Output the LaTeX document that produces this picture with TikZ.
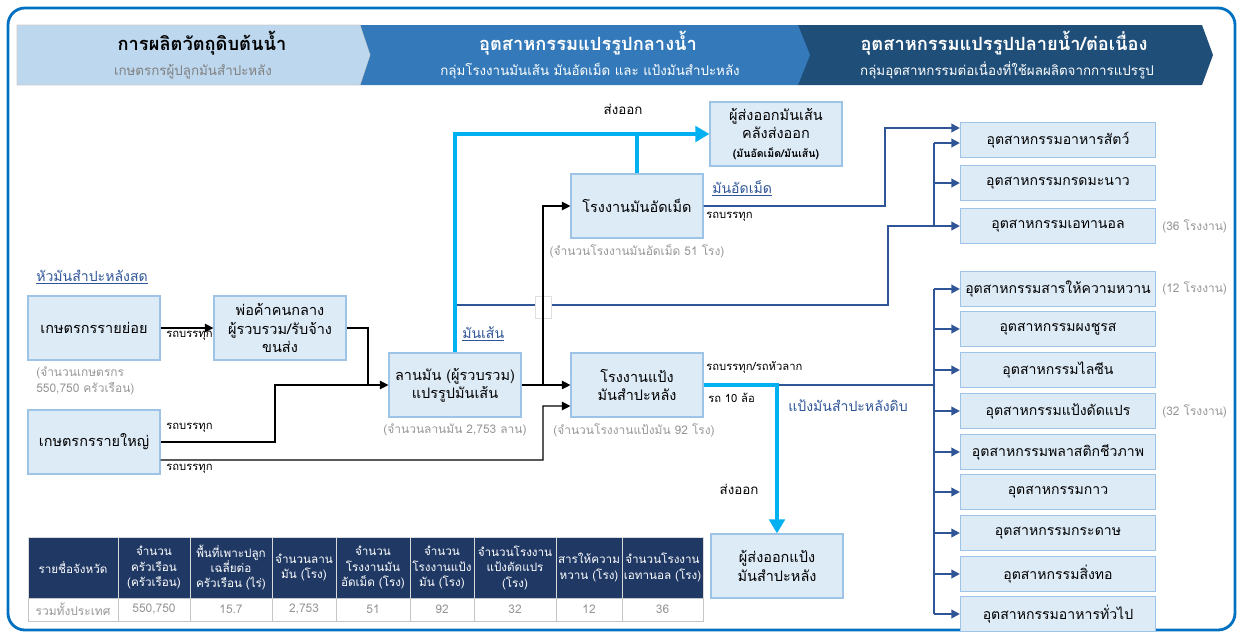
\documentclass[tikz,border=0pt]{standalone}
\usepackage{fontspec}
\setmainfont{Loma}[Script=Thai]
\usetikzlibrary{arrows.meta}

\definecolor{framec}{RGB}{0,112,192}
\definecolor{boxc}{RGB}{221,235,247}
\definecolor{boxedge}{RGB}{157,195,230}
\definecolor{segone}{RGB}{189,215,238}
\definecolor{segtwo}{RGB}{52,122,186}
\definecolor{segthree}{RGB}{31,78,121}
\definecolor{cyanc}{RGB}{0,176,240}
\definecolor{dblue}{RGB}{47,85,151}
\definecolor{navy}{RGB}{31,56,100}
\definecolor{graytxt}{RGB}{150,150,150}

\begin{document}
\begin{tikzpicture}[x = 0.025cm, y = -0.025cm,
  box/.style = {fill=boxc, draw=boxedge, line width=0.8pt, minimum width=3.3cm, minimum height=1.6cm, align=center, inner sep=1pt, font=\fontsize{10.3}{13}\selectfont},
  ind/.style = {fill=boxc, draw=boxedge, line width=0.8pt, minimum width=4.875cm, minimum height=0.875cm, inner sep=1pt, font=\fontsize{10}{12}\selectfont},
  note/.style = {text=graytxt, font=\fontsize{8.5}{11}\selectfont, inner sep=0pt},
  truck/.style = {font=\fontsize{8}{9}\selectfont, inner sep=0pt, anchor=west},
  lbl/.style = {text=dblue, font=\fontsize{10}{12}\selectfont, inner sep=0pt, anchor=west},
  arr/.style = {black, line width=0.8pt, -{Triangle[length=6pt,width=6pt]}},
  blk/.style = {black, line width=0.8pt},
  cy/.style = {cyanc, line width=3pt},
  cyarr/.style = {cyanc, line width=3pt, -{Triangle[length=10pt,width=11pt]}},
  db/.style = {dblue, line width=1.4pt},
  dbarr/.style = {dblue, line width=1.4pt, -{Triangle[length=6pt,width=6pt]}},
  hcell/.style = {fill=navy, draw=white!70!gray, text=white, minimum height=1.525cm, inner sep=0pt, align=center, font=\fontsize{8.3}{11}\selectfont},
  dcell/.style = {fill=white, draw=gray!45, text=graytxt, minimum height=0.575cm, inner sep=0pt, font=\fontsize{8.5}{9}\selectfont},
]

\useasboundingbox (0,0) rectangle (1242,634);
\draw[framec, line width=2pt, rounded corners=12pt] (8,8) rectangle (1235,630);

% header banner
\fill[segthree] (798,25) -- (1202,25) -- (1213,55) -- (1202,85) -- (798,85) -- cycle;
\fill[segtwo] (360,25) -- (798,25) -- (810,55) -- (798,85) -- (360,85) -- cycle;
\filldraw[fill=segone, draw=gray!40] (17,25) -- (360,25) -- (370,55) -- (360,85) -- (17,85) -- cycle;

\node (h1t) at (202,43) {\fontsize{13}{15}\selectfont\bfseries การผลิตวัตถุดิบต้นน้ำ};
\node[text=gray] (h1s) at (193,72) {\fontsize{9.5}{11}\selectfont เกษตรกรผู้ปลูกมันสำปะหลัง};
\node[text=white] (h2t) at (588,43) {\fontsize{13}{15}\selectfont\bfseries อุตสาหกรรมแปรรูปกลางน้ำ};
\node[text=white] (h2s) at (590,71) {\fontsize{9.5}{11}\selectfont กลุ่มโรงงานมันเส้น มันอัดเม็ด และ แป้งมันสำปะหลัง};
\node[text=white] (h3t) at (1004,43) {\fontsize{13}{15}\selectfont\bfseries อุตสาหกรรมแปรรูปปลายน้ำ/ต่อเนื่อง};
\node[text=white] (h3s) at (1007,70) {\fontsize{9.5}{11}\selectfont กลุ่มอุตสาหกรรมต่อเนื่องที่ใช้ผลผลิตจากการแปรรูป};

% boxes
\node[box] (small) at (94,328) {เกษตรกรรายย่อย};
\node[box] (large) at (94,442) {เกษตรกรรายใหญ่};
\node[box] (mid) at (280,328) {พ่อค้าคนกลาง\\ผู้รวบรวม/รับจ้าง\\ขนส่ง};
\node[box] (yard) at (455,385) {ลานมัน (ผู้รวบรวม)\\แปรรูปมันเส้น};
\node[box] (starch) at (637,385) {โรงงานแป้ง\\มันสำปะหลัง};
\node[box] (pellet) at (637,206) {โรงงานมันอัดเม็ด};
\node[box] (expchip) at (776,134) {ผู้ส่งออกมันเส้น\\คลังส่งออก\\{\fontsize{7.5}{9}\selectfont\bfseries (มันอัดเม็ด/มันเส้น)}};
\node[box] (expstarch) at (777,566) {ผู้ส่งออกแป้ง\\มันสำปะหลัง};

\node[ind] (feed) at (1058,140) {อุตสาหกรรมอาหารสัตว์};
\node[ind] (citric) at (1058,183) {อุตสาหกรรมกรดมะนาว};
\node[ind] (eth) at (1058,226) {อุตสาหกรรมเอทานอล};
\node[ind] (sweet) at (1058,289) {อุตสาหกรรมสารให้ความหวาน};
\node[ind] (msg) at (1058,329) {อุตสาหกรรมผงชูรส};
\node[ind] (lys) at (1058,370) {อุตสาหกรรมไลซีน};
\node[ind] (modst) at (1058,411) {อุตสาหกรรมแป้งดัดแปร};
\node[ind] (bioplas) at (1058,452) {อุตสาหกรรมพลาสติกชีวภาพ};
\node[ind] (glue) at (1058,492) {อุตสาหกรรมกาว};
\node[ind] (paper) at (1058,533) {อุตสาหกรรมกระดาษ};
\node[ind] (textile) at (1058,574) {อุตสาหกรรมสิ่งทอ};
\node[ind] (food) at (1058,614) {อุตสาหกรรมอาหารทั่วไป};

% labels
\node[lbl] (fresh) at (36,277) {\underline{หัวมันสำปะหลังสด}};
\node[lbl] (chiplbl) at (462,334) {\underline{มันเส้น}};
\node[lbl] (pelletlbl) at (712,188) {\underline{มันอัดเม็ด}};
\node[lbl] (starchlbl) at (788,406) {แป้งมันสำปะหลังดิบ};
\node[note, anchor=west, align=left] (farmnote) at (36,381) {(จำนวนเกษตรกร\\550,750 ครัวเรือน)};
\node[note] (yardnote) at (455,430) {(จำนวนลานมัน 2,753 ลาน)};
\node[note] (starchnote) at (634,430) {(จำนวนโรงงานแป้งมัน 92 โรง)};
\node[note] (pelletnote) at (637,251) {(จำนวนโรงงานมันอัดเม็ด 51 โรง)};
\node[note, anchor=west] (ethnote) at (1162,226) {(36 โรงงาน)};
\node[note, anchor=west] (sweetnote) at (1162,288) {(12 โรงงาน)};
\node[note, anchor=west] (modnote) at (1162,411) {(32 โรงงาน)};
\node[font=\fontsize{9.5}{11}\selectfont] (exp1) at (623,109) {ส่งออก};
\node[font=\fontsize{9.5}{11}\selectfont] (exp2) at (739,489) {ส่งออก};
\node[truck] (t1) at (166,336) {รถบรรทุก};
\node[truck] (t2) at (166,428) {รถบรรทุก};
\node[truck] (t3) at (166,469) {รถบรรทุก};
\node[truck] (t4) at (706,217) {รถบรรทุก};
\node[truck] (t5) at (706,367) {รถบรรทุก/รถหัวลาก};
\node[truck] (t6) at (708,398) {รถ 10 ล้อ};

% junctions
\coordinate (j1) at (368,385);
\coordinate (j2) at (275,442);
\coordinate (j3) at (543,406);
\coordinate (j4) at (543,385);
\coordinate (j5) at (637,134);
\coordinate (j6) at (455,305);
\coordinate (j7) at (888,305);
\coordinate (j8) at (885,128);
\coordinate (j9) at (777,385);
\coordinate (b1) at (934,226);
\coordinate (b2) at (934,143);
\coordinate (b3) at (934,289);
\coordinate (b4) at (934,614);

% dark blue lines
\draw[dbarr] (j6) -- (j7) |- (eth.west);
\draw[db] (b1) -- (b2);
\draw[dbarr] (b2) -- ([yshift=-0.075cm]feed.west);
\draw[dbarr] (b1 |- citric.west) -- (citric.west);
\draw[dbarr] (pellet.east) -| (j8) -- ([yshift=0.3cm]feed.west);
\draw[db] (j9) -- (b3 |- j9);
\draw[db] (b3) -- (b4);
\draw[dbarr] (b3) -- (sweet.west);
\draw[dbarr] (b3 |- msg.west) -- (msg.west);
\draw[dbarr] (b3 |- lys.west) -- (lys.west);
\draw[dbarr] (b3 |- modst.west) -- (modst.west);
\draw[dbarr] (b3 |- bioplas.west) -- (bioplas.west);
\draw[dbarr] (b3 |- glue.west) -- (glue.west);
\draw[dbarr] (b3 |- paper.west) -- (paper.west);
\draw[dbarr] (b3 |- textile.west) -- (textile.west);
\draw[dbarr] (b4) -- (food.west);

% crossing gap
\filldraw[fill=white, draw=gray!25] (535,296) rectangle (551,318);

% black lines
\draw[arr] (small.east) -- (mid.west);
\draw[arr] (mid.east) -| (j1) -- (yard.west);
\draw[blk] (large.east) -- (j2) |- (j1);
\draw[arr] ([yshift=-0.45cm]large.east) -| (j3) -- ([yshift=-0.525cm]starch.west);
\draw[arr] (yard.east) -- (starch.west);
\draw[arr] (j4) |- (pellet.west);

% cyan lines
\draw[cyarr] (yard.north) |- (expchip.west);
\draw[cy] (pellet.north) -- (j5);
\draw[cyarr] (starch.east) -- (j9) -- (expstarch.north);

% table
\node[hcell, minimum width=2.25cm] (c1) at (73,567.5) {รายชื่อจังหวัด};
\node[hcell, minimum width=1.8cm] (c2) at (154,567.5) {จำนวน\\ครัวเรือน\\(ครัวเรือน)};
\node[hcell, minimum width=2.05cm] (c3) at (231,567.5) {พื้นที่เพาะปลูก\\เฉลี่ยต่อ\\ครัวเรือน (ไร่)};
\node[hcell, minimum width=1.6cm] (c4) at (304,567.5) {จำนวนลาน\\มัน (โรง)};
\node[hcell, minimum width=1.85cm] (c5) at (373,567.5) {จำนวน\\โรงงานมัน\\อัดเม็ด (โรง)};
\node[hcell, minimum width=1.6cm] (c6) at (442,567.5) {จำนวน\\โรงงานแป้ง\\มัน (โรง)};
\node[hcell, minimum width=2.05cm] (c7) at (515,567.5) {จำนวนโรงงาน\\แป้งดัดแปร\\(โรง)};
\node[hcell, minimum width=1.65cm] (c8) at (589,567.5) {สารให้ความ\\หวาน (โรง)};
\node[hcell, minimum width=2.025cm] (c9) at (662.5,567.5) {จำนวนโรงงาน\\เอทานอล (โรง)};

\node[dcell, minimum width=2.25cm] (d1) at (73,609.5) {รวมทั้งประเทศ};
\node[dcell, minimum width=1.8cm] (d2) at (154,609.5) {550,750};
\node[dcell, minimum width=2.05cm] (d3) at (231,609.5) {15.7};
\node[dcell, minimum width=1.6cm] (d4) at (304,609.5) {2,753};
\node[dcell, minimum width=1.85cm] (d5) at (373,609.5) {51};
\node[dcell, minimum width=1.6cm] (d6) at (442,609.5) {92};
\node[dcell, minimum width=2.05cm] (d7) at (515,609.5) {32};
\node[dcell, minimum width=1.65cm] (d8) at (589,609.5) {12};
\node[dcell, minimum width=2.025cm] (d9) at (662.5,609.5) {36};

\end{tikzpicture}
\end{document}
